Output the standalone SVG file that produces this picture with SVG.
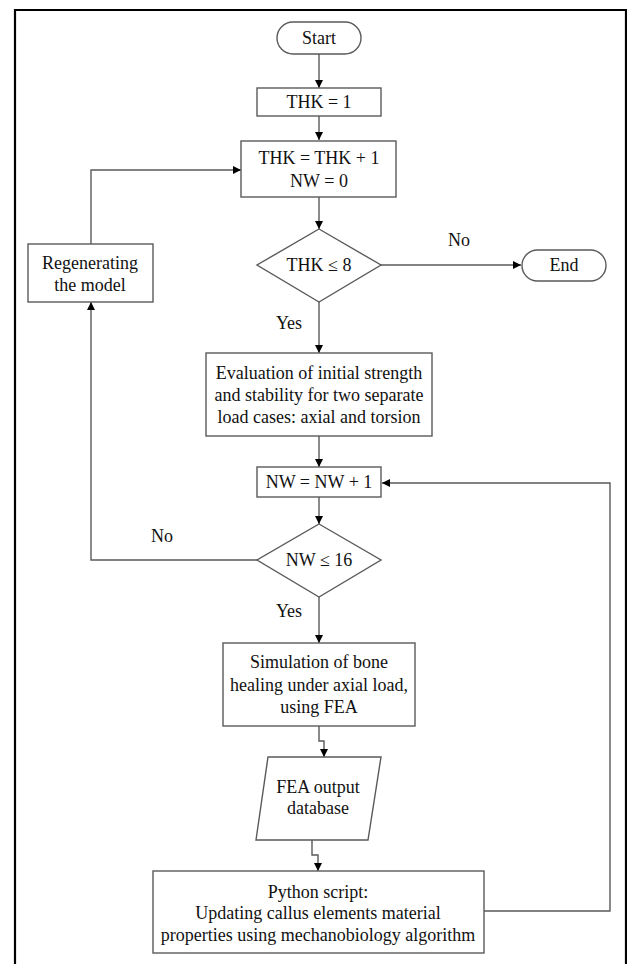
<svg xmlns="http://www.w3.org/2000/svg" width="627" height="964" viewBox="0 0 627 964">
<style>
.n{fill:#fff;stroke:#5a5a5a;stroke-width:1.4}
.t{font-family:'Liberation Serif','DejaVu Serif',serif;font-size:18px;fill:#111;text-anchor:middle;dominant-baseline:central}
.c{fill:none;stroke:#5a5a5a;stroke-width:1.4}
</style>
<defs>
<marker id="a" viewBox="0 0 10 10" refX="10" refY="5" markerWidth="8" markerHeight="8" markerUnits="userSpaceOnUse" orient="auto">
<path d="M0,0 L10,5 L0,10 Z" fill="#000"/>
</marker>
</defs>
<rect width="627" height="964" fill="#fff"/>
<path d="M15,966 V10 H626 V966" fill="none" stroke="#000" stroke-width="2.2"/>

<g id="connectors">
<path class="c" d="M319,54 V88" marker-end="url(#a)"/>
<path class="c" d="M319,116 V140" marker-end="url(#a)"/>
<path class="c" d="M319,197 V229" marker-end="url(#a)"/>
<path class="c" d="M381,265 H521" marker-end="url(#a)"/>
<path class="c" d="M319,302 V353" marker-end="url(#a)"/>
<path class="c" d="M319,436 V467" marker-end="url(#a)"/>
<path class="c" d="M319,497 V524" marker-end="url(#a)"/>
<path class="c" d="M319,597 V643" marker-end="url(#a)"/>
<path class="c" d="M257,560 H91 V302" marker-end="url(#a)"/>
<path class="c" d="M91,244 V170 H241" marker-end="url(#a)"/>
<path class="c" d="M319,726 V741 H324 V757" marker-end="url(#a)"/>
<path class="c" d="M312,840 V855 H318 V871" marker-end="url(#a)"/>
<path class="c" d="M484,911 H610 V483 H382" marker-end="url(#a)"/>
<text class="t" font-family="Liberation Serif" x="459" y="240">No</text>
<text class="t" font-family="Liberation Serif" x="289" y="323">Yes</text>
<text class="t" font-family="Liberation Serif" x="162" y="536">No</text>
<text class="t" font-family="Liberation Serif" x="289" y="611">Yes</text>
</g>

<g id="start">
<rect class="n" x="277" y="22" width="84" height="32" rx="16"/>
<text class="t" x="319" y="38">Start</text>
</g>
<g id="thk1">
<rect class="n" x="257" y="88" width="124" height="28"/>
<text class="t" x="319" y="102">THK = 1</text>
</g>
<g id="thkinc">
<rect class="n" x="241" y="141" width="155" height="56"/>
<text class="t" x="319" y="158">THK = THK + 1</text>
<text class="t" x="319" y="181">NW = 0</text>
</g>
<g id="dec1">
<polygon class="n" points="319,229 381,265 319,302 257,265"/>
<text class="t" x="319" y="265">THK ≤ 8</text>
</g>
<g id="end">
<rect class="n" x="522" y="250" width="84" height="31" rx="15.5"/>
<text class="t" x="564" y="265">End</text>
</g>
<g id="regen">
<rect class="n" x="28" y="244" width="125" height="58"/>
<text class="t" x="90" y="263">Regenerating</text>
<text class="t" x="90" y="285">the model</text>
</g>
<g id="eval">
<rect class="n" x="206" y="353" width="226" height="83"/>
<text class="t" x="319" y="373">Evaluation of initial strength</text>
<text class="t" x="319" y="395">and stability for two separate</text>
<text class="t" x="319" y="417">load cases: axial and torsion</text>
</g>
<g id="nwinc">
<rect class="n" x="257" y="467" width="124" height="30"/>
<text class="t" x="319" y="482">NW = NW + 1</text>
</g>
<g id="dec2">
<polygon class="n" points="319,524 381,560 319,597 257,560"/>
<text class="t" x="319" y="560">NW ≤ 16</text>
</g>
<g id="sim">
<rect class="n" x="223" y="643" width="192" height="83"/>
<text class="t" x="319" y="662">Simulation of bone</text>
<text class="t" x="319" y="685">healing under axial load,</text>
<text class="t" x="319" y="707">using FEA</text>
</g>
<g id="fea">
<polygon class="n" points="268,757 381,757 368,840 256,840"/>
<text class="t" x="318" y="787">FEA output</text>
<text class="t" x="318" y="808">database</text>
</g>
<g id="python">
<rect class="n" x="153" y="871" width="331" height="82"/>
<text class="t" x="318" y="892">Python script:</text>
<text class="t" x="318" y="913">Updating callus elements material</text>
<text class="t" x="318" y="935">properties using mechanobiology algorithm</text>
</g>
</svg>
